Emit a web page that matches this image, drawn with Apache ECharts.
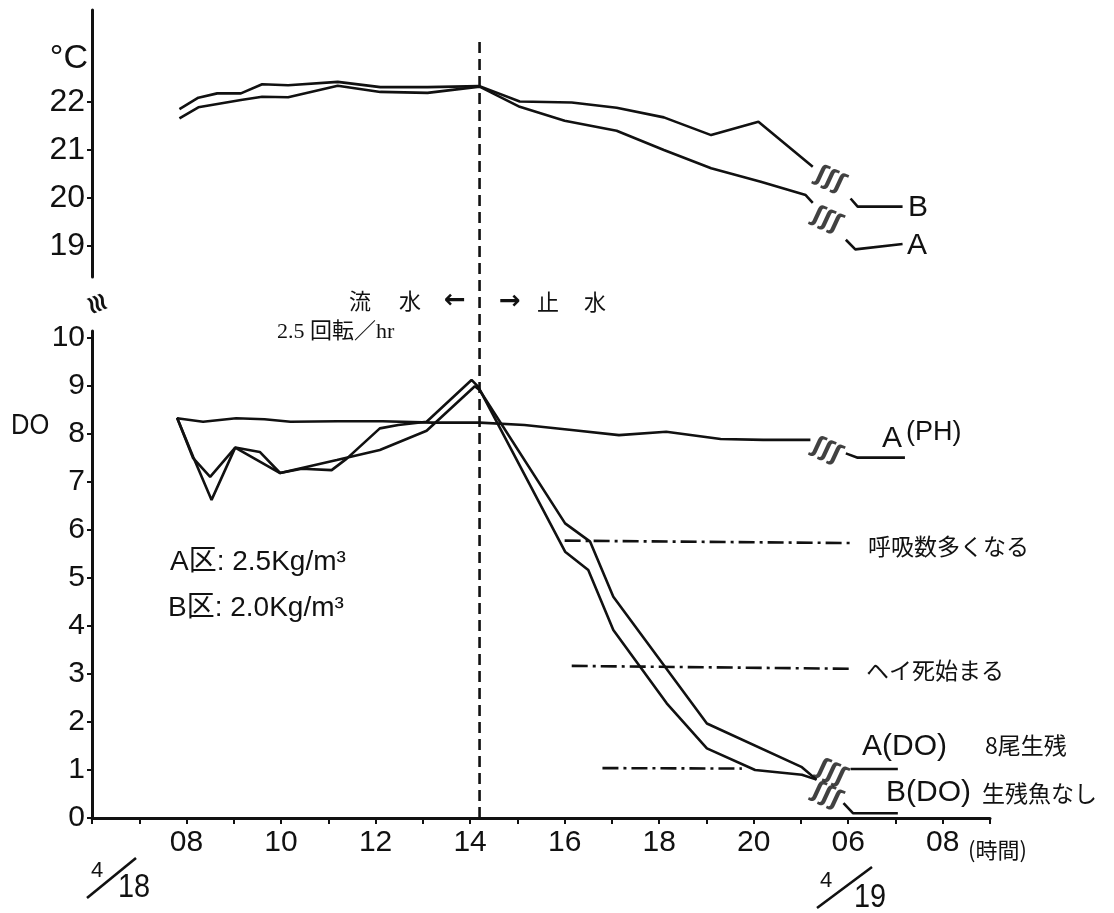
<!DOCTYPE html>
<html>
<head>
<meta charset="utf-8">
<title>DO・水温の経時変化</title>
<script src="https://cdn.jsdelivr.net/npm/echarts@6/dist/echarts.min.js"></script>
<style>
  html, body { margin: 0; padding: 0; background: #fff; }
  #chart { width: 1114px; height: 913px; }
</style>
</head>
<body>
<div id="chart"></div>
<script>
// time axis = hours of 4/18; after the break 06 of 4/19 sits on slot 22
const hourTicks = [8, 10, 12, 14, 16, 18, 20, 22, 24];
const hourLabels = ['08', '10', '12', '14', '16', '18', '20', '06', '08'];
const tempTicks = [19, 20, 21, 22];
const doTicks = [0, 1, 2, 3, 4, 5, 6, 7, 8, 9, 10];

// water temperature (°C)
const tempBTime = [7.85, 8.25, 8.65, 9.15, 9.6, 10.15, 11.2, 12.1, 13.1, 14.2, 15.05, 16.15, 17.1, 18.1, 19.1, 20.1, 21.25];
const tempB = [21.85, 22.09, 22.18, 22.18, 22.37, 22.35, 22.42, 22.31, 22.31, 22.33, 22.01, 21.99, 21.88, 21.68, 21.31, 21.59, 20.65];
const tempBNextTime = [22.05, 22.2, 23.15];
const tempBNext = [19.99, 19.82, 19.82];

const tempATime = [7.85, 8.25, 9.15, 9.6, 10.15, 11.2, 12.1, 13.1, 14.2, 15.05, 16.0, 17.1, 18.1, 19.1, 20.15, 21.1, 21.25];
const tempA = [21.66, 21.89, 22.04, 22.11, 22.1, 22.34, 22.21, 22.19, 22.32, 21.9, 21.61, 21.4, 21.0, 20.62, 20.34, 20.06, 19.9];
const tempANextTime = [21.95, 22.15, 23.15];
const tempANext = [19.13, 18.93, 19.04];

// pH of A
const phTime = [7.8, 8.35, 9.05, 9.65, 10.2, 11.2, 12.15, 13.2, 14.2, 15.15, 16.2, 17.15, 18.15, 19.3, 20.2, 21.2];
const ph = [8.33, 8.26, 8.33, 8.31, 8.26, 8.27, 8.27, 8.24, 8.24, 8.19, 8.08, 7.98, 8.05, 7.9, 7.88, 7.88];
const phNextTime = [21.95, 22.2, 23.2];
const phNext = [7.6, 7.51, 7.51];

// dissolved oxygen
const doATime = [7.8, 8.14, 8.5, 9.03, 9.55, 9.98, 11.18, 12.09, 13.08, 14.1, 14.2, 16.01, 16.54, 17.03, 19.01, 21.02, 21.33];
const doA = [8.34, 7.5, 7.11, 7.72, 7.63, 7.19, 7.46, 7.67, 8.07, 9.0, 8.92, 6.14, 5.76, 4.61, 1.97, 1.06, 0.8];
const doANextTime = [22.05, 23.05];
const doANext = [1.02, 1.02];

const doBTime = [7.8, 8.14, 8.53, 9.03, 9.98, 10.44, 11.07, 11.39, 12.09, 12.48, 13.08, 14.03, 14.17, 16.01, 16.5, 17.03, 18.16, 19.01, 20.03, 21.02, 21.33];
const doB = [8.34, 7.53, 6.63, 7.72, 7.19, 7.28, 7.25, 7.49, 8.12, 8.19, 8.26, 9.13, 8.99, 5.55, 5.17, 3.92, 2.39, 1.45, 1.0, 0.9, 0.8];
const doBNextTime = [21.9, 22.1, 23.05];
const doBNext = [0.31, 0.1, 0.1];

// fish behaviour levels (dash-dot lines)
const breathTime = [16.0, 22.05];
const breathDO = [5.78, 5.73];
const deathTime = [16.15, 22.05];
const deathDO = [3.17, 3.11];
const survTime = [16.8, 19.75];
const survDO = [1.04, 1.03];

// moment the water flow was stopped
const stopTime = 14.2;

// break marks on the lines
const tempBreaks = [[21.62, 20.38], [21.55, 19.54]];
const doBreaks = [[21.55, 7.65], [21.65, 0.94], [21.55, 0.46]];

const zip = (t, v) => t.map((x, i) => [x, v[i]]);

const ink = '#111';
const numFont = 'Liberation Sans';
const jpFont = '"Noto Sans CJK JP", "Liberation Sans"';

function line(name, t, v, xi, extra) {
  return Object.assign({
    name: name,
    type: 'line',
    xAxisIndex: xi,
    yAxisIndex: xi,
    data: zip(t, v),
    showSymbol: false,
    symbol: 'none',
    silent: true,
    lineStyle: { color: ink, width: 2.6 }
  }, extra || {});
}

function dashDot(name, t, v) {
  return line(name, t, v, 1, { lineStyle: { color: ink, width: 2.6, type: [16, 5, 3, 5] } });
}

function breaks(name, pts, xi) {
  return {
    name: name,
    type: 'scatter',
    xAxisIndex: xi,
    yAxisIndex: xi,
    data: pts,
    symbolSize: 1,
    itemStyle: { color: 'rgba(0,0,0,0)' },
    silent: true,
    label: {
      show: true,
      position: 'inside',
      formatter: 'ʃʃʃ',
      rotate: -25,
      color: ink,
      fontFamily: 'DejaVu Sans',
      fontWeight: 'bold',
      fontSize: 24
    }
  };
}

function txt(x, y, s, font, align, extra) {
  return Object.assign({
    type: 'text',
    x: x,
    y: y,
    silent: true,
    style: {
      text: s,
      font: font,
      fill: ink,
      align: align || 'left',
      verticalAlign: 'middle',
      textAlign: align || 'left',
      textVerticalAlign: 'middle'
    }
  }, extra || {});
}

function seg(x1, y1, x2, y2) {
  return { type: 'line', silent: true, shape: { x1: x1, y1: y1, x2: x2, y2: y2 }, style: { stroke: ink, lineWidth: 2.6 } };
}

const xBase = {
  type: 'value',
  min: 6,
  max: 25,
  interval: 1,
  splitLine: { show: false }
};

const chart = echarts.init(document.getElementById('chart'), null, { renderer: 'canvas' });

chart.setOption({
  backgroundColor: '#fff',
  animation: false,
  grid: [
    { left: 92, right: 124, top: 10, height: 267 },
    { left: 92, right: 124, top: 331, height: 487 },
    { left: 92, right: 124, top: 42, height: 776 }
  ],
  xAxis: [
    Object.assign({}, xBase, { gridIndex: 0, show: false }),
    Object.assign({}, xBase, {
      gridIndex: 1,
      axisLine: { show: true, lineStyle: { color: ink, width: 3 } },
      axisTick: { show: true, length: 6, lineStyle: { color: ink, width: 2 } },
      axisLabel: {
        show: true,
        customValues: hourTicks,
        formatter: v => {
          const i = hourTicks.indexOf(v);
          return i >= 0 ? hourLabels[i] : '';
        },
        margin: 10,
        color: ink,
        fontFamily: numFont,
        fontSize: 30
      }
    }),
    Object.assign({}, xBase, { gridIndex: 2, show: false })
  ],
  yAxis: [
    {
      type: 'value',
      gridIndex: 0,
      min: 22 - 175 / 48,
      max: 22 + 92 / 48,
      splitLine: { show: false },
      axisLine: { show: true, lineStyle: { color: ink, width: 3 } },
      axisTick: { show: true, length: 5, customValues: tempTicks, lineStyle: { color: ink, width: 2 } },
      axisLabel: { customValues: tempTicks, margin: 7, color: ink, fontFamily: numFont, fontSize: 32 }
    },
    {
      type: 'value',
      gridIndex: 1,
      min: 0,
      max: 10.15,
      splitLine: { show: false },
      axisLine: { show: true, lineStyle: { color: ink, width: 3 } },
      axisTick: { show: true, length: 5, customValues: doTicks, lineStyle: { color: ink, width: 2 } },
      axisLabel: { customValues: doTicks, margin: 7, color: ink, fontFamily: numFont, fontSize: 30 }
    },
    { type: 'value', gridIndex: 2, min: 0, max: 1, show: false }
  ],
  series: [
    line('水温 B', tempBTime, tempB, 0),
    line('水温 B 4/19', tempBNextTime, tempBNext, 0),
    line('水温 A', tempATime, tempA, 0),
    line('水温 A 4/19', tempANextTime, tempANext, 0),
    line('A(PH)', phTime, ph, 1),
    line('A(PH) 4/19', phNextTime, phNext, 1),
    line('A(DO)', doATime, doA, 1),
    line('A(DO) 4/19', doANextTime, doANext, 1),
    line('B(DO)', doBTime, doB, 1),
    line('B(DO) 4/19', doBNextTime, doBNext, 1),
    dashDot('呼吸数多くなる', breathTime, breathDO),
    dashDot('ヘイ死始まる', deathTime, deathDO),
    dashDot('8尾生残', survTime, survDO),
    line('止水', [stopTime, stopTime], [0, 1], 2, { lineStyle: { color: ink, width: 2.6, type: [11, 6] } }),
    breaks('break-temp', tempBreaks, 0),
    breaks('break-do', doBreaks, 1)
  ],
  graphic: [
    txt(88, 59, '°C', '34px "Liberation Sans"', 'right'),
    txt(11, 426, 'DO', '30px "Liberation Sans"', 'left', { scaleX: 0.85 }),
    txt(96, 304, '≋', 'bold 26px "DejaVu Sans"', 'center', { rotation: -1.2 }),
    txt(360, 301, '流', '22px ' + jpFont, 'center'),
    txt(410, 301, '水', '22px ' + jpFont, 'center'),
    txt(455, 301, '←', 'bold 26px "DejaVu Sans"', 'center'),
    txt(510, 302, '→', 'bold 26px "DejaVu Sans"', 'center'),
    txt(548, 302, '止', '22px ' + jpFont, 'center'),
    txt(595, 302, '水', '22px ' + jpFont, 'center'),
    txt(277, 332, '2.5 回転／hr', '22px "Liberation Serif", "Noto Sans CJK JP"'),
    txt(170, 562, 'A区: 2.5Kg/m³', '28px "Liberation Sans", "Noto Sans CJK JP"'),
    txt(168, 608, 'B区: 2.0Kg/m³', '28px "Liberation Sans", "Noto Sans CJK JP"'),
    txt(908, 208, 'B', '30px "Liberation Sans"'),
    txt(907, 246, 'A', '30px "Liberation Sans"'),
    txt(882, 439, 'A', '30px "Liberation Sans"'),
    txt(906, 433, '(PH)', '27px "Liberation Sans"'),
    txt(868, 546, '呼吸数多くなる', '23px ' + jpFont),
    txt(866, 670, 'ヘイ死始まる', '23px ' + jpFont),
    txt(862, 747, 'A(DO)', '30px "Liberation Sans"'),
    txt(985, 745, '8尾生残', '23px ' + jpFont),
    txt(886, 793, 'B(DO)', '30px "Liberation Sans"'),
    txt(982, 793, '生残魚なし', '23px ' + jpFont),
    txt(968, 850, '(時間)', '22px ' + jpFont),
    txt(97, 871, '4', '22px "Liberation Sans"', 'center'),
    txt(134, 888, '18', '34px "Liberation Sans"', 'center', { scaleX: 0.85 }),
    seg(87, 898, 136, 858),
    txt(826, 881, '4', '22px "Liberation Sans"', 'center'),
    txt(870, 898, '19', '34px "Liberation Sans"', 'center', { scaleX: 0.85 }),
    seg(817, 908, 872, 867)
  ]
});
</script>
</body>
</html>
